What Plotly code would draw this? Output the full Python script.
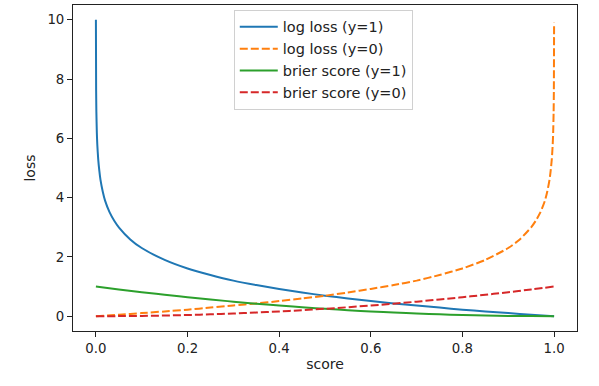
import plotly.graph_objects as go

# Values
score_log = [0.0, 0.0005, 0.001, 0.002, 0.003, 0.005, 0.0075, 0.01, 0.015, 0.02, 0.03, 0.04, 0.05,
             0.075, 0.1, 0.15, 0.2, 0.25, 0.3, 0.35, 0.4, 0.45, 0.5, 0.55, 0.6, 0.65, 0.7, 0.75,
             0.8, 0.85, 0.9, 0.95, 1.0]
log_loss_y1 = [10.0, 7.6, 6.9, 6.2, 5.8, 5.3, 4.9, 4.6, 4.2, 3.9, 3.5, 3.22, 3.0,
               2.59, 2.3, 1.9, 1.61, 1.39, 1.2, 1.05, 0.92, 0.8, 0.69, 0.6, 0.51, 0.43, 0.36, 0.29,
               0.22, 0.16, 0.105, 0.05, 0.0]

score_log0 = [0.0, 0.05, 0.1, 0.15, 0.2, 0.25, 0.3, 0.35, 0.4, 0.45, 0.5, 0.55, 0.6, 0.65, 0.7,
              0.75, 0.8, 0.85, 0.9, 0.925, 0.95, 0.96, 0.97, 0.98, 0.985, 0.99, 0.9925, 0.995,
              0.997, 0.998, 0.999, 0.9995, 1.0]
log_loss_y0 = [0.0, 0.05, 0.105, 0.16, 0.22, 0.29, 0.36, 0.43, 0.51, 0.6, 0.69, 0.8, 0.92, 1.05,
               1.2, 1.39, 1.61, 1.9, 2.3, 2.59, 3.0, 3.22, 3.5, 3.9, 4.2, 4.6, 4.9, 5.3,
               5.8, 6.2, 6.9, 7.6, 9.9]

score_brier = [0.0, 0.05, 0.1, 0.15, 0.2, 0.25, 0.3, 0.35, 0.4, 0.45, 0.5, 0.55, 0.6, 0.65,
               0.7, 0.75, 0.8, 0.85, 0.9, 0.95, 1.0]
brier_y1 = [1.0, 0.9025, 0.81, 0.7225, 0.64, 0.5625, 0.49, 0.4225, 0.36, 0.3025, 0.25, 0.2025,
            0.16, 0.1225, 0.09, 0.0625, 0.04, 0.0225, 0.01, 0.0025, 0.0]
brier_y0 = [0.0, 0.0025, 0.01, 0.0225, 0.04, 0.0625, 0.09, 0.1225, 0.16, 0.2025, 0.25, 0.3025,
            0.36, 0.4225, 0.49, 0.5625, 0.64, 0.7225, 0.81, 0.9025, 1.0]

series_names = ["log loss (y=1)", "log loss (y=0)", "brier score (y=1)", "brier score (y=0)"]
x_ticks = [0.0, 0.2, 0.4, 0.6, 0.8, 1.0]
y_ticks = [0, 2, 4, 6, 8, 10]

colors = ["#1f77b4", "#ff7f0e", "#2ca02c", "#d62728"]
dash = "8px,3px"

fig = go.Figure()
fig.add_trace(go.Scatter(x=score_log, y=log_loss_y1, mode="lines", name=series_names[0],
                         line=dict(color=colors[0], width=2, shape="spline", smoothing=0.6)))
fig.add_trace(go.Scatter(x=score_log0, y=log_loss_y0, mode="lines", name=series_names[1],
                         line=dict(color=colors[1], width=2, dash=dash, shape="spline", smoothing=0.6)))
fig.add_trace(go.Scatter(x=score_brier, y=brier_y1, mode="lines", name=series_names[2],
                         line=dict(color=colors[2], width=2, shape="spline")))
fig.add_trace(go.Scatter(x=score_brier, y=brier_y0, mode="lines", name=series_names[3],
                         line=dict(color=colors[3], width=2, dash=dash, shape="spline")))

axis_common = dict(showgrid=False, zeroline=False, showline=True, mirror=True,
                   linecolor="#222", linewidth=1, ticks="outside", ticklen=5,
                   tickcolor="#222", tickfont=dict(size=13.3, color="#222"))

fig.update_layout(
    width=599, height=386,
    margin=dict(l=73, r=22, t=5, b=55),
    paper_bgcolor="white", plot_bgcolor="white",
    font=dict(family="DejaVu Sans", size=13.5, color="#222"),
    xaxis=dict(range=[-0.05, 1.05], tickvals=x_ticks, tickformat=".1f",
               title=dict(text="score", standoff=4, font=dict(size=14)), **axis_common),
    yaxis=dict(range=[-0.5, 10.5], tickvals=y_ticks,
               title=dict(text="loss", standoff=8, font=dict(size=14)), **axis_common),
    legend=dict(x=0.319, y=0.985, xanchor="left", yanchor="top", itemwidth=38,
                bgcolor="rgba(255,255,255,0.8)", bordercolor="#d0d0d0", borderwidth=1,
                font=dict(size=14.5, color="#222")),
    showlegend=True,
)

fig.write_html("out.html", config={"displayModeBar": False},
               post_script="document.body.style.margin='0';")
